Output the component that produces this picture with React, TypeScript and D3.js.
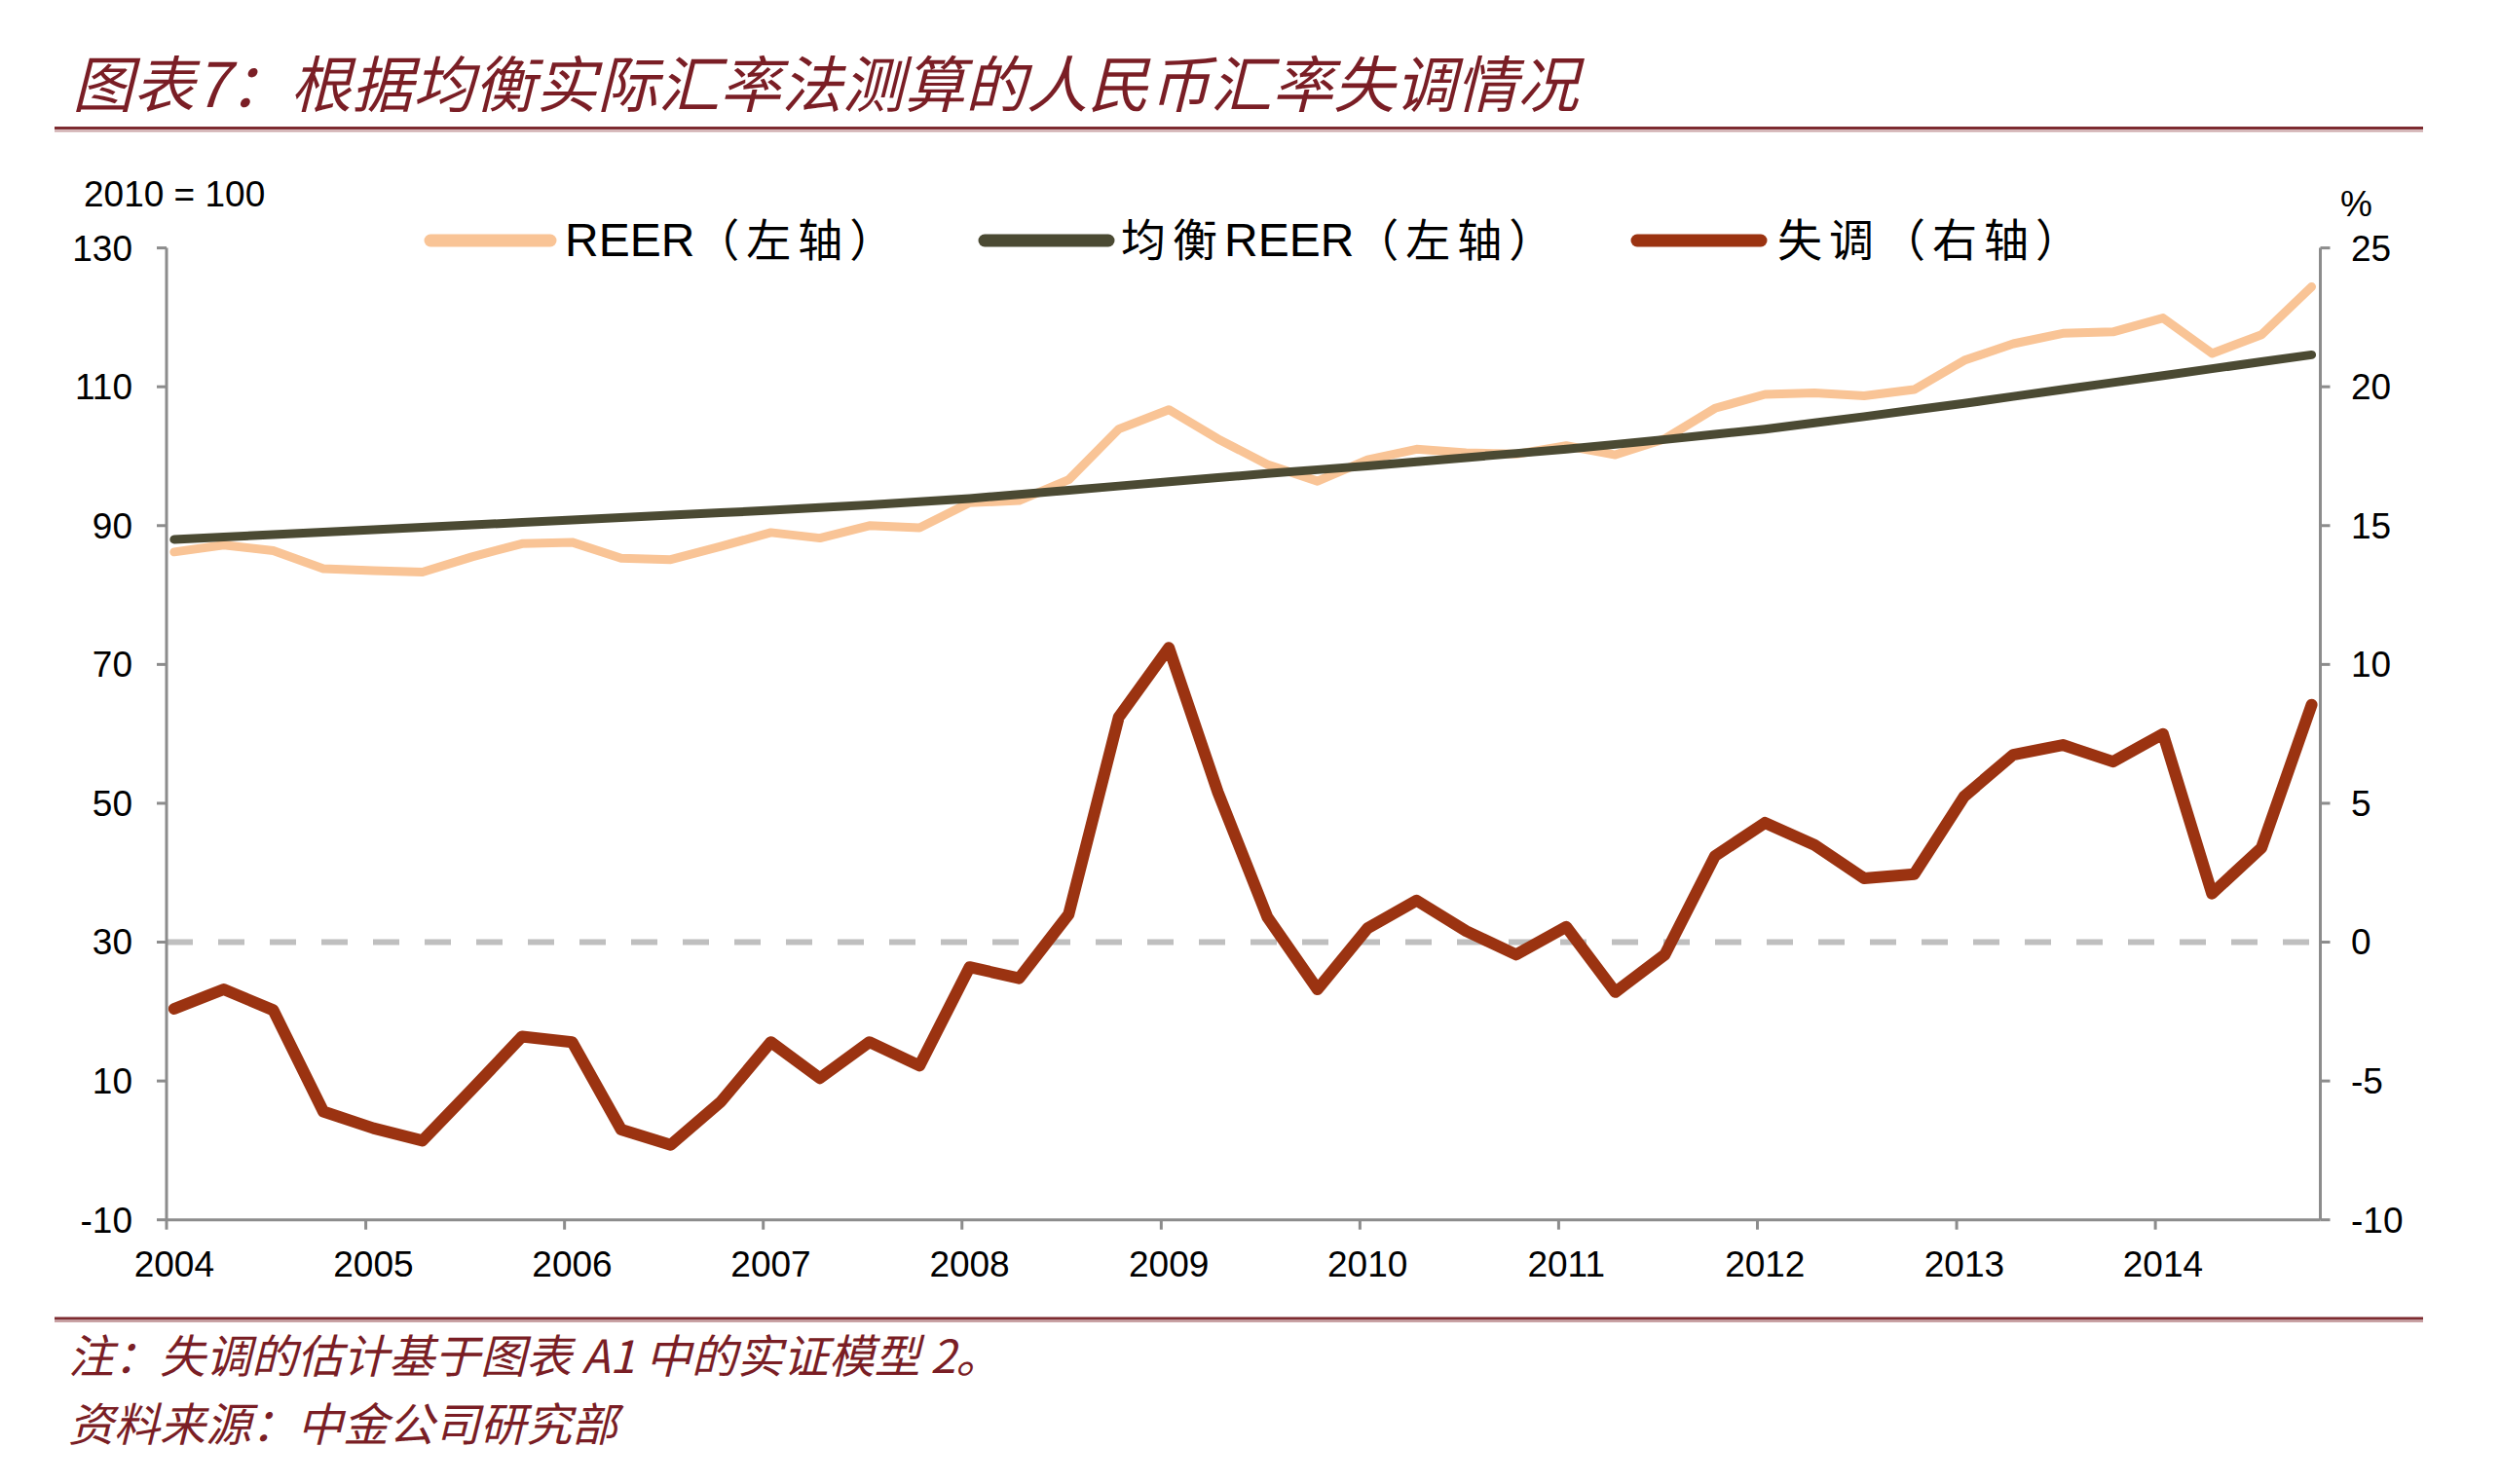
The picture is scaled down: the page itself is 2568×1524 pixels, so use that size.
import React from "react";
import * as d3 from "d3";

const quarters = [
  "2004Q1","2004Q2","2004Q3","2004Q4","2005Q1","2005Q2","2005Q3","2005Q4",
  "2006Q1","2006Q2","2006Q3","2006Q4","2007Q1","2007Q2","2007Q3","2007Q4",
  "2008Q1","2008Q2","2008Q3","2008Q4","2009Q1","2009Q2","2009Q3","2009Q4",
  "2010Q1","2010Q2","2010Q3","2010Q4","2011Q1","2011Q2","2011Q3","2011Q4",
  "2012Q1","2012Q2","2012Q3","2012Q4","2013Q1","2013Q2","2013Q3","2013Q4",
  "2014Q1","2014Q2","2014Q3","2014Q4",
];

const reer = [
  86.2, 87.2, 86.4, 83.8, 83.5, 83.3, 85.5, 87.4, 87.6, 85.3, 85.1, 87.0,
  89.0, 88.2, 90.0, 89.7, 93.3, 93.6, 96.6, 103.9, 106.7, 102.5, 98.8, 96.4,
  99.5, 101.0, 100.5, 100.3, 101.5, 100.2, 102.5, 106.9, 108.9, 109.1, 108.7, 109.6,
  113.8, 116.2, 117.7, 117.9, 119.9, 114.8, 117.5, 124.4,
];

const equilReer = [
  88.0, 88.35, 88.7, 89.05, 89.4, 89.75, 90.1, 90.45, 90.8, 91.15, 91.5, 91.85,
  92.2, 92.6, 93.0, 93.45, 93.9, 94.5, 95.1, 95.7, 96.3, 96.9, 97.5, 98.05,
  98.6, 99.2, 99.8, 100.4, 101.0, 101.7, 102.4, 103.15, 103.9, 104.8, 105.7, 106.65,
  107.6, 108.6, 109.6, 110.6, 111.6, 112.6, 113.6, 114.6,
];

const misalignment = [
  -2.4, -1.7, -2.45, -6.1, -6.7, -7.15, -5.3, -3.4, -3.6, -6.75, -7.3, -5.75,
  -3.6, -4.9, -3.6, -4.45, -0.9, -1.3, 1.0, 8.1, 10.6, 5.4, 0.9, -1.7,
  0.5, 1.5, 0.4, -0.45, 0.55, -1.8, -0.45, 3.1, 4.3, 3.5, 2.3, 2.45,
  5.25, 6.75, 7.1, 6.5, 7.5, 1.75, 3.4, 8.55,
];

const years = [2004, 2005, 2006, 2007, 2008, 2009, 2010, 2011, 2012, 2013, 2014];
const leftTicks = [-10, 10, 30, 50, 70, 90, 110, 130];
const rightTicks = [-10, -5, 0, 5, 10, 15, 20, 25];

const titleText = "图表7：根据均衡实际汇率法测算的人民币汇率失调情况";
const noteText = "注：失调的估计基于图表 A1 中的实证模型 2。";
const sourceText = "资料来源：中金公司研究部";
const legendItems = [
  { latin: "REER", cjk: "（左轴）", color: "#F9C496" },
  { latin: "", cjk: "均衡", latin2: "REER", cjk2: "（左轴）", color: "#4B4A33" },
  { latin: "", cjk: "失调（右轴）", color: "#9B3311" },
];

const W = 2568;
const H = 1524;
const M = { left: 171, right: 2382.5, top: 254.6, bottom: 1252.7 };

const qDate = (q: string) => {
  const y = +q.slice(0, 4);
  const n = +q.slice(5);
  return new Date(y, (n - 1) * 3, 15);
};

export default function App() {
  const x = d3
    .scaleTime()
    .domain([new Date(2004, 0, 1), new Date(2014, 9, 31)])
    .range([M.left, M.right]);
  const yL = d3.scaleLinear().domain([-10, 130]).range([M.bottom, M.top]);
  const yR = d3.scaleLinear().domain([-10, 25]).range([M.bottom, M.top]);

  const dates = quarters.map(qDate);
  const lineL = d3
    .line<number>()
    .x((_, i) => x(dates[i]))
    .y((d) => yL(d));
  const lineR = d3
    .line<number>()
    .x((_, i) => x(dates[i]))
    .y((d) => yR(d));

  const axisColor = "#8C8C8C";
  const titleColor = "#7A1E25";
  const sans = "'Liberation Sans', Arial, 'Noto Sans CJK SC', sans-serif";
  const cjk = "'Noto Sans CJK SC', sans-serif";
  const tickFont = 37;

  const legendX = [
    { l0: 442, l1: 565, t: 580 },
    { l0: 1011, l1: 1138, t: 1151 },
    { l0: 1681, l1: 1808, t: 1825 },
  ];
  const legendY = 247;
  const ls = 7;

  return (
    <div style={{ position: "absolute", left: 0, top: 0 }}>
      <svg width={W} height={H} viewBox={`0 0 ${W} ${H}`} style={{ display: "block", background: "#fff" }}>
        <rect x={0} y={0} width={W} height={H} fill="#fff" />
        {/* Title */}
        <text
          x={74}
          y={110}
          fontFamily={cjk}
          fontSize={63}
          fontStyle="italic"
          fill={titleColor}
        >
          {titleText}
        </text>
        <line x1={56} x2={2488} y1={131.5} y2={131.5} stroke="#7D2B30" strokeWidth={3} />
        <line x1={56} x2={2488} y1={134.5} y2={134.5} stroke="#C9A2A4" strokeWidth={2} />

        {/* Axis unit labels */}
        <text x={86} y={212} fontFamily={sans} fontSize={tickFont} fill="#000">
          2010 = 100
        </text>
        <text x={2403} y={222} fontFamily={sans} fontSize={tickFont} fill="#000">
          %
        </text>

        {/* Legend */}
        {legendItems.map((it, i) => (
          <g key={i}>
            <line
              x1={legendX[i].l0}
              x2={legendX[i].l1}
              y1={legendY}
              y2={legendY}
              stroke={it.color}
              strokeWidth={13}
              strokeLinecap="round"
            />
            <text x={legendX[i].t} y={263} fill="#000">
              {it.latin ? (
                <tspan fontFamily={sans} fontSize={48}>
                  {it.latin}
                </tspan>
              ) : null}
              <tspan fontFamily={cjk} fontSize={46} letterSpacing={ls}>
                {it.cjk}
              </tspan>
              {it.latin2 ? (
                <tspan fontFamily={sans} fontSize={48}>
                  {it.latin2}
                </tspan>
              ) : null}
              {it.cjk2 ? (
                <tspan fontFamily={cjk} fontSize={46} letterSpacing={ls}>
                  {it.cjk2}
                </tspan>
              ) : null}
            </text>
          </g>
        ))}

        {/* Zero line (right axis) */}
        <line
          x1={M.left}
          x2={M.right}
          y1={yR(0)}
          y2={yR(0)}
          stroke="#BFBFBF"
          strokeWidth={6}
          strokeDasharray="27 26"
        />

        {/* Series */}
        <path d={lineL(reer) || ""} fill="none" stroke="#F9C496" strokeWidth={9} strokeLinejoin="round" strokeLinecap="round" />
        <path d={lineL(equilReer) || ""} fill="none" stroke="#4B4A33" strokeWidth={9} strokeLinejoin="round" strokeLinecap="round" />
        <path d={lineR(misalignment) || ""} fill="none" stroke="#9B3311" strokeWidth={12} strokeLinejoin="round" strokeLinecap="round" />

        {/* Left axis */}
        <line x1={M.left} x2={M.left} y1={M.top} y2={M.bottom} stroke={axisColor} strokeWidth={3} />
        {leftTicks.map((t) => (
          <g key={"l" + t}>
            <line x1={M.left - 10} x2={M.left} y1={yL(t)} y2={yL(t)} stroke={axisColor} strokeWidth={3} />
            <text x={136} y={yL(t)} dy="0.35em" textAnchor="end" fontFamily={sans} fontSize={tickFont} fill="#000">
              {t}
            </text>
          </g>
        ))}

        {/* Right axis */}
        <line x1={M.right} x2={M.right} y1={M.top} y2={M.bottom} stroke={axisColor} strokeWidth={3} />
        {rightTicks.map((t) => (
          <g key={"r" + t}>
            <line x1={M.right} x2={M.right + 10} y1={yR(t)} y2={yR(t)} stroke={axisColor} strokeWidth={3} />
            <text x={2414} y={yR(t)} dy="0.35em" textAnchor="start" fontFamily={sans} fontSize={tickFont} fill="#000">
              {t}
            </text>
          </g>
        ))}

        {/* Bottom axis */}
        <line x1={M.left} x2={M.right} y1={M.bottom} y2={M.bottom} stroke={axisColor} strokeWidth={3} />
        {years.map((yr) => (
          <g key={"x" + yr}>
            <line
              x1={x(new Date(yr, 0, 1))}
              x2={x(new Date(yr, 0, 1))}
              y1={M.bottom}
              y2={M.bottom + 10}
              stroke={axisColor}
              strokeWidth={3}
            />
            <text x={x(new Date(yr, 0, 15))} y={1311} textAnchor="middle" fontFamily={sans} fontSize={tickFont} fill="#000">
              {yr}
            </text>
          </g>
        ))}

        {/* Footer */}
        <line x1={56} x2={2488} y1={1354} y2={1354} stroke="#7D2B30" strokeWidth={3} />
        <line x1={56} x2={2488} y1={1357} y2={1357} stroke="#C9A2A4" strokeWidth={2} />
        <text x={70} y={1410} fontFamily={cjk} fontSize={47} fontStyle="italic" fill={titleColor}>
          {noteText}
        </text>
        <text x={70} y={1480} fontFamily={cjk} fontSize={47} fontStyle="italic" fill={titleColor}>
          {sourceText}
        </text>
      </svg>
    </div>
  );
}
